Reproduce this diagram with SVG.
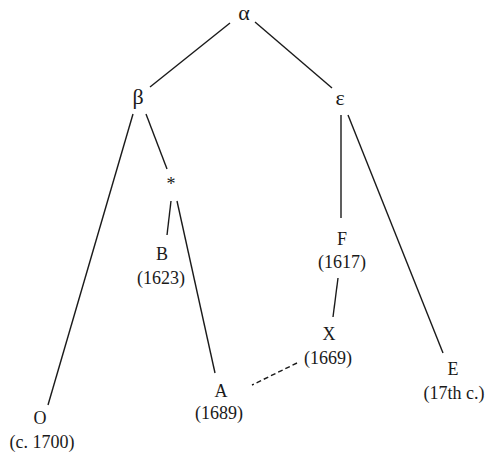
<svg xmlns="http://www.w3.org/2000/svg" width="485" height="457" viewBox="0 0 485 457">
<style>
text{font-family:"Liberation Serif","Times New Roman",serif;font-size:18px;fill:#1a1a1a;text-anchor:middle}
.g{font-size:22px}
.e{stroke:#1a1a1a;stroke-width:1.4;fill:none}
.d{stroke-dasharray:5,3}
</style>
<rect width="485" height="457" fill="#fff"/>
<g id="connectors">
<line class="e" x1="230" y1="23" x2="150" y2="87"/>
<line class="e" x1="255" y1="22" x2="332" y2="88"/>
<line class="e" x1="133" y1="114" x2="48" y2="405"/>
<line class="e" x1="146" y1="114" x2="167" y2="169"/>
<line class="e" x1="171" y1="201" x2="167" y2="235"/>
<line class="e" x1="177" y1="201" x2="215" y2="373"/>
<line class="e" x1="341" y1="115" x2="341" y2="218"/>
<line class="e" x1="348" y1="115" x2="443" y2="353"/>
<line class="e" x1="338" y1="278" x2="333" y2="317"/>
<line class="e d" x1="297" y1="363" x2="252" y2="385"/>
</g>
<g id="alpha"><text class="g" x="244" y="20">α</text></g>
<g id="beta"><text class="g" x="138" y="104">β</text></g>
<g id="epsilon"><text class="g" x="340" y="105">ε</text></g>
<g id="star"><text x="171" y="190">*</text></g>
<g id="B"><text x="162" y="260">B</text><text x="161" y="284">(1623)</text></g>
<g id="A"><text x="221" y="397">A</text><text x="219" y="419">(1689)</text></g>
<g id="O"><text x="40" y="424">O</text><text x="42" y="448">(c. 1700)</text></g>
<g id="F"><text x="342" y="245">F</text><text x="342" y="268">(1617)</text></g>
<g id="X"><text x="329" y="340">X</text><text x="328" y="364">(1669)</text></g>
<g id="E"><text x="453" y="375">E</text><text x="454" y="399">(17th c.)</text></g>
</svg>
